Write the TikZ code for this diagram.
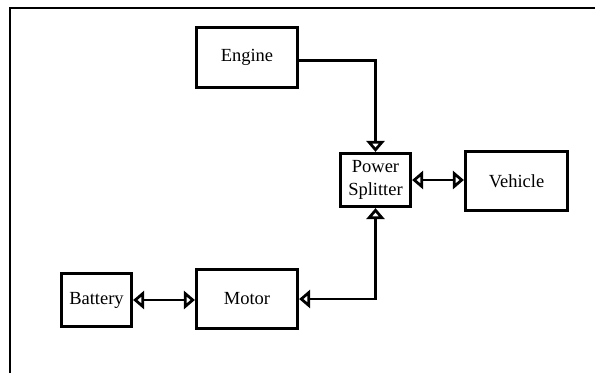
\documentclass[tikz,border=0pt]{standalone}
\usepackage{fontspec}
\setmainfont{Liberation Serif}
\usetikzlibrary{arrows.meta}
\tikzset{
  blockbox/.style={draw, line width=3.2pt, inner sep=0pt, align=center,
    font=\fontsize{18.5}{23.5}\selectfont},
  conn/.style={line width=2.8pt, {Triangle[open, length=11pt, width=18pt, line width=2.8pt]}-{Triangle[open, length=11pt, width=18pt, line width=2.8pt]}},
  connone/.style={line width=2.8pt, -{Triangle[open, length=11pt, width=18pt, line width=2.8pt]}},
  frameline/.style={line width=2.8pt}
}
\begin{document}
\begin{tikzpicture}[x=1pt, y=-1pt]
\useasboundingbox (0,0) rectangle (595,373);
% frame
\coordinate (fbl) at (10,373);
\coordinate (ftl) at (10,8);
\coordinate (ftr) at (595,8);
\draw[frameline] (fbl) -- (ftl) -- (ftr);
% blocks
\node[blockbox, minimum width=101pt, minimum height=60pt] (engine) at (247,57.5) {Engine};
\node[blockbox, minimum width=70pt, minimum height=53pt] (ps) at (375.5,180) {Power\\Splitter};
\node[blockbox, minimum width=102pt, minimum height=59pt] (vehicle) at (516.5,181) {Vehicle};
\node[blockbox, minimum width=101pt, minimum height=59pt] (motor) at (247,299) {Motor};
\node[blockbox, minimum width=70pt, minimum height=53pt] (battery) at (96.5,300) {Battery};
% connectors
\draw[connone] ([yshift=-3pt]engine.east) -| (ps.north);
\draw[conn] (ps.east) -- (ps.east -| vehicle.west);
\draw[conn] (ps.south) |- (motor.east);
\draw[conn] (battery.east) -- (battery.east -| motor.west);
\end{tikzpicture}
\end{document}
